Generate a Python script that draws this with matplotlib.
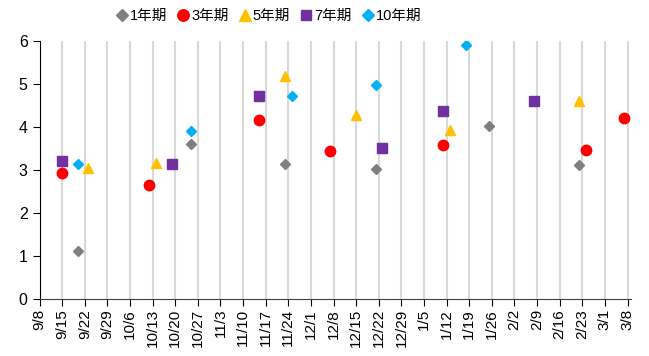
import pandas as pd
import matplotlib
matplotlib.use("Agg")
import matplotlib.pyplot as plt

plt.rcParams['font.family'] = ['Liberation Sans', 'Noto Sans CJK SC']

# 数据 (2023-2024)
d1 = ['2023-09-20', '2023-10-25', '2023-11-23', '2023-12-21', '2024-01-25', '2024-02-22']
v1 = [1.12, 3.60, 3.15, 3.03, 4.02, 3.12]

d3 = ['2023-09-15', '2023-10-12', '2023-11-15', '2023-12-07', '2024-01-11', '2024-02-24', '2024-03-07']
v3 = [2.92, 2.64, 4.17, 3.45, 3.57, 3.47, 4.20]

d5 = ['2023-09-23', '2023-10-14', '2023-11-23', '2023-12-15', '2024-01-13', '2024-02-22']
v5 = [3.05, 3.17, 5.18, 4.28, 3.92, 4.61]

d7 = ['2023-09-15', '2023-10-19', '2023-11-15', '2023-12-23', '2024-01-11', '2024-02-08']
v7 = [3.21, 3.15, 4.73, 3.50, 4.38, 4.61]

d10 = ['2023-09-20', '2023-10-25', '2023-11-25', '2023-12-21', '2024-01-18']
v10 = [3.15, 3.90, 4.73, 4.98, 5.91]

ticks = pd.date_range('2023-09-08', '2024-03-08', freq='7D')
tick_labels = [f'{t.month}/{t.day}' for t in ticks]

fig = plt.figure(figsize=(6.49, 3.56), dpi=100)
ax = fig.add_axes([0.0609, 0.160, 0.911, 0.725])

ax.set_xticks(ticks)
ax.set_xticklabels(tick_labels, rotation=90, fontsize=11)
ax.grid(axis='x', color='#d9d9d9', linewidth=1.5)
ax.set_axisbelow(True)

ax.plot(pd.to_datetime(d1), v1, 'D', color='#7f7f7f', markersize=5.5, label='1年期', linestyle='none')
ax.plot(pd.to_datetime(d3), v3, 'o', color='#ff0000', markersize=7.5, label='3年期', linestyle='none')
ax.plot(pd.to_datetime(d5), v5, '^', color='#ffc000', markersize=7.5, label='5年期', linestyle='none')
ax.plot(pd.to_datetime(d7), v7, 's', color='#7030a0', markersize=7, label='7年期', linestyle='none')
ax.plot(pd.to_datetime(d10), v10, 'D', color='#00b0f0', markersize=5.5, label='10年期', linestyle='none')

ax.set_xlim(pd.Timestamp('2023-09-08'), pd.Timestamp('2024-03-09'))
ax.set_ylim(0, 6)
ax.set_yticks(range(0, 7))
ax.tick_params(axis='y', labelsize=11.5, length=5, direction='out')
ax.tick_params(axis='x', length=5, direction='out', pad=2)

ax.spines['top'].set_visible(False)
ax.spines['right'].set_visible(False)
ax.spines['left'].set_color('black')
ax.spines['bottom'].set_color('#404040')

fig.legend(loc='center', bbox_to_anchor=(0.413, 0.955), ncol=5, frameon=False,
           fontsize=10.5, handletextpad=0.05, columnspacing=0.6, handlelength=1.0,
           markerscale=1.1)

fig.savefig('out.png', dpi=100)
